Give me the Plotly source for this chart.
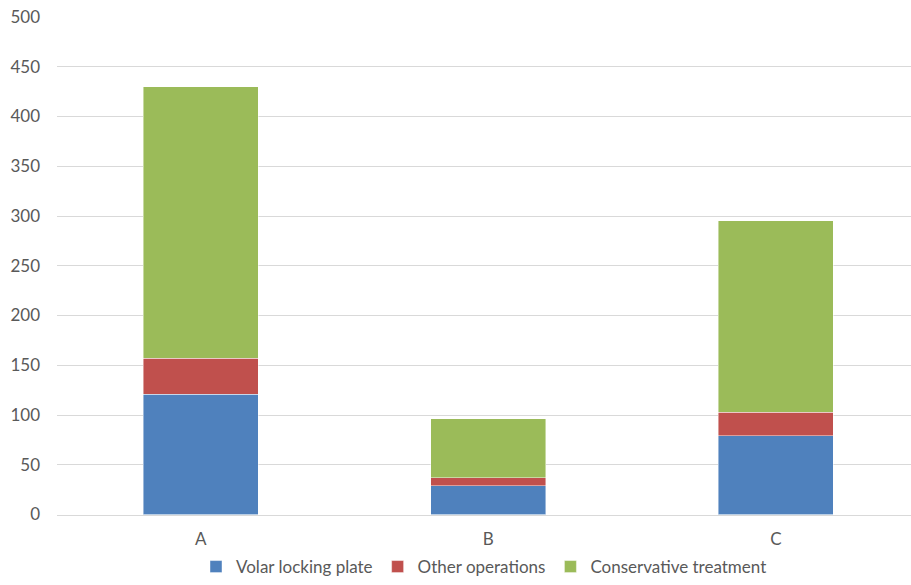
import plotly.graph_objects as go

categories = ["A", "B", "C"]
volar_locking_plate = [121, 29, 79]
other_operations = [36, 8, 24]
conservative_treatment = [273, 59, 192]
y_ticks = [0, 50, 100, 150, 200, 250, 300, 350, 400, 450, 500]

series = [
    ("Volar locking plate", volar_locking_plate, "#4F81BD"),
    ("Other operations", other_operations, "#C0504D"),
    ("Conservative treatment", conservative_treatment, "#9BBB59"),
]

W, H = 911, 585
TOP = 17          # pixel row of the 500 gridline
BASE = 514.5      # pixel row of the 0 baseline

fig = go.Figure()
for name, values, color in series:
    fig.add_trace(go.Bar(
        x=list(range(len(categories))),
        y=values,
        name=name,
        width=0.4,
        marker=dict(color=color, line=dict(color="rgba(255,255,255,0.55)", width=0.8)),
    ))

font = dict(family="Lato, 'Open Sans', sans-serif", size=17, color="#595959")
plot_h = H - TOP

fig.update_layout(
    barmode="stack",
    width=W,
    height=H,
    margin=dict(l=57, r=0, t=TOP, b=0),
    paper_bgcolor="white",
    plot_bgcolor="white",
    font=font,
    showlegend=True,
    legend=dict(
        orientation="h",
        x=0.5,
        xanchor="center",
        y=0,
        yanchor="bottom",
        font=font,
        traceorder="normal",
        itemwidth=30,
        tracegroupgap=0,
        bgcolor="rgba(0,0,0,0)",
    ),
    xaxis=dict(
        tickmode="array",
        tickvals=list(range(len(categories))),
        ticktext=categories,
        range=[-0.5, 2.47],
        showgrid=False,
        showline=True,
        linecolor="#D9D9D9",
        linewidth=1,
        ticks="",
        ticklabelstandoff=9,
        zeroline=False,
        anchor="y",
        automargin=False,
    ),
    yaxis=dict(
        domain=[(H - BASE) / plot_h, 1],
        range=[0, 500],
        tickvals=y_ticks,
        showgrid=True,
        gridcolor="#D9D9D9",
        gridwidth=1,
        zeroline=False,
        showline=False,
        ticks="",
        ticklabelstandoff=16,
        automargin=False,
    ),
)

fig.write_html("out.html")
